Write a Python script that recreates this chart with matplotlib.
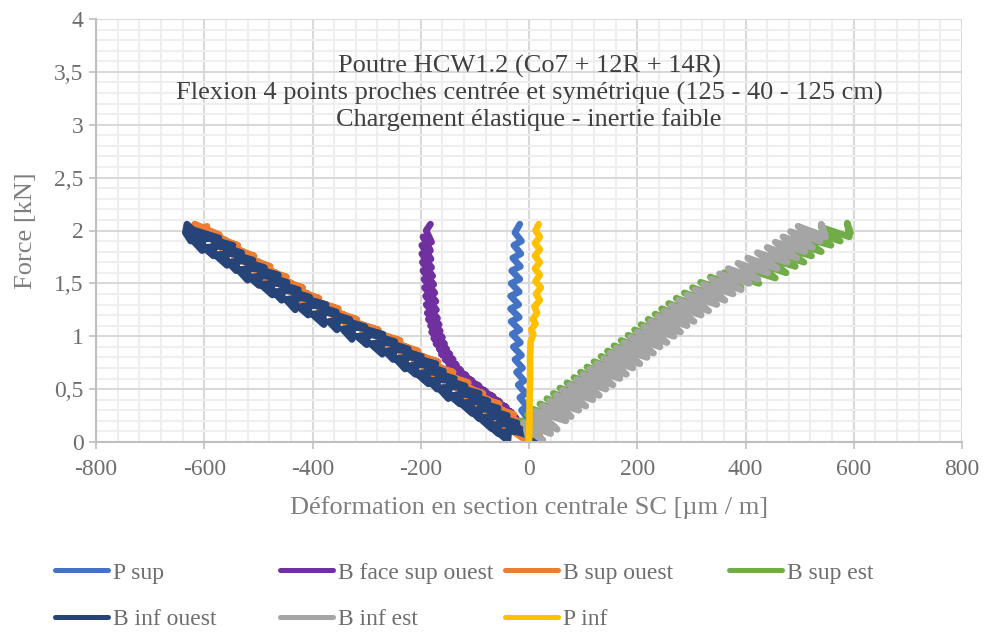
import matplotlib
matplotlib.use("Agg")
import matplotlib.pyplot as plt
from matplotlib.ticker import MultipleLocator, FuncFormatter

plt.rcParams['font.family'] = ['Liberation Serif', 'DejaVu Serif']

# points (deformation µm/m, force kN)
p_sup = [(-3, 0), (-8, 0.06), (0, 0.10), (-12, 0.18), (-2, 0.22), (-14, 0.30), (-4, 0.34),
         (-17, 0.42), (-6, 0.46), (-20, 0.54), (-9, 0.58), (-23, 0.66), (-12, 0.70),
         (-26, 0.78), (-14, 0.82), (-29, 0.90), (-16, 0.94), (-31, 1.02), (-17, 1.06),
         (-33, 1.14), (-18, 1.18), (-34, 1.26), (-19, 1.30), (-34, 1.38), (-18, 1.42),
         (-33, 1.50), (-17, 1.54), (-32, 1.62), (-16, 1.66), (-30, 1.74), (-15, 1.78),
         (-28, 1.86), (-14, 1.90), (-26, 1.98), (-17, 2.06)]

b_face_sup_ouest = [(-3, 0), (-16, 0.08), (4, 0.03), (-22, 0.13), (-2, 0.08), (-30, 0.18),
                    (-10, 0.13), (-36, 0.23), (-14, 0.18), (-44, 0.28), (-24, 0.23), (-54, 0.33),
                    (-32, 0.28), (-66, 0.38), (-42, 0.33), (-78, 0.43), (-54, 0.38), (-92, 0.48),
                    (-66, 0.43), (-104, 0.53), (-80, 0.48), (-118, 0.58), (-92, 0.53),
                    (-128, 0.63), (-105, 0.58), (-140, 0.68), (-116, 0.63), (-148, 0.73),
                    (-126, 0.68), (-155, 0.78), (-134, 0.73), (-162, 0.83), (-140, 0.78),
                    (-166, 0.88), (-146, 0.83), (-172, 0.93), (-152, 0.88), (-176, 0.98),
                    (-156, 0.93), (-180, 1.04), (-160, 0.99), (-182, 1.10), (-164, 1.05),
                    (-186, 1.16), (-166, 1.11), (-188, 1.22), (-169, 1.17), (-190, 1.30),
                    (-171, 1.25), (-191, 1.38), (-172, 1.33), (-193, 1.46), (-174, 1.41),
                    (-194, 1.54), (-176, 1.49), (-196, 1.62), (-178, 1.57), (-197, 1.70),
                    (-180, 1.65), (-198, 1.78), (-181, 1.73), (-198, 1.86), (-182, 1.81),
                    (-196, 1.94), (-180, 1.89), (-190, 2.00), (-182, 2.06)]

b_sup_ouest = [(0, 0), (-30, 0.10), (25, 0.02), (-48, 0.15), (20, 0.06), (-55, 0.20), (2, 0.10),
               (-72, 0.25), (-5, 0.16), (-82, 0.30), (-22, 0.20), (-98, 0.35), (-28, 0.26),
               (-105, 0.40), (-48, 0.30), (-125, 0.45), (-55, 0.36), (-132, 0.50), (-75, 0.40),
               (-155, 0.55), (-85, 0.46), (-162, 0.60), (-105, 0.50), (-185, 0.65), (-112, 0.56),
               (-190, 0.70), (-135, 0.60), (-212, 0.75), (-140, 0.66), (-218, 0.80), (-162, 0.70),
               (-238, 0.85), (-168, 0.76), (-250, 0.90), (-192, 0.80), (-275, 0.95), (-205, 0.86),
               (-282, 1.00), (-228, 0.90), (-308, 1.05), (-238, 0.96), (-322, 1.10), (-265, 1.00),
               (-348, 1.15), (-278, 1.06), (-362, 1.20), (-305, 1.10), (-388, 1.25), (-318, 1.16),
               (-396, 1.30), (-342, 1.20), (-425, 1.35), (-352, 1.26), (-432, 1.40), (-378, 1.30),
               (-458, 1.45), (-388, 1.36), (-465, 1.50), (-408, 1.40), (-488, 1.55), (-418, 1.46),
               (-495, 1.60), (-438, 1.50), (-518, 1.65), (-448, 1.56), (-525, 1.70), (-468, 1.60),
               (-545, 1.75), (-478, 1.66), (-552, 1.80), (-498, 1.70), (-575, 1.85), (-508, 1.76),
               (-582, 1.90), (-528, 1.80), (-602, 1.95), (-538, 1.86), (-612, 2.00), (-558, 1.90),
               (-618, 2.06), (-572, 1.96), (-615, 1.98), (-595, 2.04)]

b_sup_est = [(0, 0), (-8, 0.14), (20, 0.04), (-14, 0.20), (34, 0.10), (-3, 0.26), (48, 0.14),
             (7, 0.31), (62, 0.22), (20, 0.36), (74, 0.26), (33, 0.41), (86, 0.32), (45, 0.46),
             (100, 0.36), (57, 0.51), (112, 0.42), (70, 0.56), (125, 0.46), (83, 0.61),
             (136, 0.52), (95, 0.66), (150, 0.56), (107, 0.71), (162, 0.62), (120, 0.76),
             (175, 0.66), (133, 0.81), (186, 0.72), (145, 0.86), (200, 0.76), (157, 0.91),
             (212, 0.82), (170, 0.96), (225, 0.86), (183, 1.01), (236, 0.92), (195, 1.06),
             (250, 0.96), (207, 1.11), (262, 1.02), (220, 1.16), (275, 1.06), (233, 1.21),
             (286, 1.12), (245, 1.26), (300, 1.16), (258, 1.31), (312, 1.22), (272, 1.36),
             (327, 1.26), (287, 1.41), (342, 1.32), (302, 1.46), (357, 1.36), (317, 1.51),
             (372, 1.42), (335, 1.56), (392, 1.46), (360, 1.60), (425, 1.50), (400, 1.64),
             (455, 1.55), (422, 1.69), (475, 1.60), (440, 1.74), (492, 1.66), (455, 1.79),
             (508, 1.70), (468, 1.84), (522, 1.76), (485, 1.89), (540, 1.80), (502, 1.94),
             (558, 1.86), (522, 1.99), (575, 1.90), (540, 2.03), (592, 1.94), (588, 2.07),
             (594, 1.98)]

b_inf_ouest = [(0, 0), (13, 0.04), (-37, 0.12), (-39, 0.01), (-57, 0.09),
               (-5, 0.11), (-55, 0.19), (-57, 0.08), (-75, 0.16),
               (-22, 0.18), (-72, 0.26), (-70, 0.13), (-92, 0.23),
               (-40, 0.25), (-90, 0.33), (-92, 0.22), (-108, 0.30),
               (-57, 0.32), (-107, 0.40), (-105, 0.27), (-127, 0.37),
               (-76, 0.39), (-126, 0.47), (-128, 0.36), (-146, 0.44),
               (-92, 0.46), (-147, 0.54), (-149, 0.41), (-167, 0.51),
               (-118, 0.53), (-168, 0.61), (-170, 0.50), (-185, 0.58),
               (-138, 0.60), (-188, 0.68), (-186, 0.55), (-208, 0.65),
               (-158, 0.67), (-208, 0.75), (-210, 0.64), (-228, 0.72),
               (-172, 0.74), (-227, 0.82), (-229, 0.69), (-247, 0.79),
               (-199, 0.81), (-249, 0.89), (-251, 0.78), (-266, 0.86),
               (-223, 0.88), (-273, 0.96), (-271, 0.83), (-293, 0.93),
               (-248, 0.95), (-298, 1.03), (-300, 0.92), (-318, 1.00),
               (-270, 1.02), (-325, 1.10), (-327, 0.97), (-345, 1.07),
               (-303, 1.09), (-353, 1.17), (-355, 1.06), (-370, 1.14),
               (-331, 1.16), (-381, 1.24), (-379, 1.11), (-401, 1.21),
               (-356, 1.23), (-406, 1.31), (-408, 1.20), (-426, 1.28),
               (-375, 1.30), (-430, 1.38), (-432, 1.25), (-450, 1.35),
               (-405, 1.37), (-455, 1.45), (-457, 1.34), (-472, 1.42),
               (-426, 1.44), (-476, 1.52), (-474, 1.39), (-496, 1.49),
               (-447, 1.51), (-497, 1.59), (-499, 1.48), (-517, 1.56),
               (-463, 1.58), (-518, 1.66), (-520, 1.53), (-538, 1.63),
               (-489, 1.65), (-539, 1.73), (-541, 1.62), (-556, 1.70),
               (-510, 1.72), (-560, 1.80), (-558, 1.67), (-580, 1.77),
               (-531, 1.79), (-581, 1.87), (-583, 1.76), (-601, 1.84),
               (-547, 1.86), (-602, 1.94), (-604, 1.81), (-622, 1.91),
               (-573, 1.93), (-623, 2.01), (-625, 1.90), (-635, 1.98),
               (-632, 2.06), (-612, 1.96)]

b_inf_est = [(0, 0), (-5, 0.12), (25, 0.02), (-10, 0.18), (40, 0.08), (2, 0.24), (52, 0.12),
             (12, 0.29), (68, 0.20), (25, 0.34), (78, 0.24), (38, 0.39), (92, 0.30), (50, 0.44),
             (105, 0.34), (62, 0.49), (118, 0.40), (75, 0.54), (130, 0.44), (88, 0.59),
             (142, 0.50), (100, 0.64), (155, 0.54), (112, 0.69), (168, 0.60), (125, 0.74),
             (180, 0.64), (138, 0.79), (192, 0.70), (150, 0.84), (205, 0.74), (162, 0.89),
             (218, 0.80), (175, 0.94), (230, 0.84), (188, 0.99), (242, 0.90), (200, 1.04),
             (255, 0.94), (212, 1.09), (268, 1.00), (225, 1.14), (280, 1.04), (238, 1.19),
             (292, 1.10), (250, 1.24), (305, 1.14), (263, 1.29), (318, 1.20), (277, 1.34),
             (332, 1.24), (292, 1.39), (347, 1.30), (307, 1.44), (362, 1.34), (322, 1.49),
             (377, 1.40), (337, 1.54), (392, 1.44), (352, 1.59), (407, 1.50), (368, 1.64),
             (423, 1.54), (386, 1.69), (441, 1.60), (404, 1.74), (459, 1.64), (422, 1.79),
             (477, 1.70), (440, 1.84), (495, 1.74), (455, 1.89), (510, 1.80), (469, 1.94),
             (524, 1.84), (483, 1.99), (538, 1.90), (497, 2.04), (548, 1.94), (540, 2.06),
             (545, 1.98)]

p_inf = [(0, 0), (1, 0.2), (1, 0.4), (2, 0.6), (2, 0.8), (3, 0.95), (8, 1.02), (4, 1.06),
         (12, 1.12), (7, 1.16), (15, 1.22), (10, 1.28), (20, 1.34), (13, 1.40), (22, 1.46),
         (12, 1.52), (20, 1.58), (11, 1.64), (20, 1.70), (11, 1.76), (20, 1.82), (11, 1.88),
         (20, 1.94), (12, 2.00), (18, 2.06)]

series = [
    ("P sup", p_sup, "#4472C4"),
    ("B face sup ouest", b_face_sup_ouest, "#7030A0"),
    ("B sup ouest", b_sup_ouest, "#ED7D31"),
    ("B sup est", b_sup_est, "#70AD47"),
    ("B inf ouest", b_inf_ouest, "#264478"),
    ("B inf est", b_inf_est, "#A5A5A5"),
    ("P inf", p_inf, "#FFC000"),
]

titre = "Poutre HCW1.2 (Co7 + 12R + 14R)\nFlexion 4 points proches centrée et symétrique (125 - 40 - 125 cm)\nChargement élastique - inertie faible"

fig = plt.figure(figsize=(9.84, 6.32), dpi=100)
ax = fig.add_axes([96 / 984, 1 - 442 / 632, 866 / 984, 423 / 632])

lines = {}
for nom, pts, col in series:
    xs = [p[0] for p in pts]
    ys = [p[1] for p in pts]
    l, = ax.plot(xs, ys, color=col, lw=4.8, label=nom,
                 solid_joinstyle='round', solid_capstyle='round')
    lines[nom] = l

ax.set_xlim(-800, 800)
ax.set_ylim(0, 4)
ax.xaxis.set_major_locator(MultipleLocator(200))
ax.xaxis.set_minor_locator(MultipleLocator(40))
ax.yaxis.set_major_locator(MultipleLocator(0.5))
ax.yaxis.set_minor_locator(MultipleLocator(0.1))
ax.yaxis.set_major_formatter(FuncFormatter(lambda v, p: ('%g' % v).replace('.', ',')))
ax.xaxis.set_major_formatter(FuncFormatter(lambda v, p: '%d' % v))

ax.grid(which='major', color='#D9D9D9', lw=1.5)
ax.grid(which='minor', color='#EEEEEE', lw=1.5)
ax.set_axisbelow(True)

for s in ['top', 'right']:
    ax.spines[s].set_visible(False)
for s in ['left', 'bottom']:
    ax.spines[s].set_color('#BFBFBF')
    ax.spines[s].set_linewidth(1.5)

ax.tick_params(which='major', length=5, width=1.2, color='#BFBFBF',
               labelsize=17, labelcolor='#6E6E6E')
ax.tick_params(axis='x', which='major', pad=7)
ax.tick_params(axis='y', which='major', pad=4)
ax.tick_params(which='minor', length=0)

ax.set_xlabel("Déformation en section centrale SC [µm / m]", fontsize=19, color='#7F7F7F', labelpad=12)
ax.set_ylabel("Force [kN]", fontsize=19, color='#7F7F7F', labelpad=12)

ax.text(0.5, 0.915, titre, transform=ax.transAxes, ha='center', va='top',
        fontsize=19, color='#404040', linespacing=1.2)

# legend columns placed like the reference
colonnes = [(55, ["P sup", "B inf ouest"]),
            (280, ["B face sup ouest", "B inf est"]),
            (505, ["B sup ouest", "P inf"]),
            (729, ["B sup est"])]
for x0, noms in colonnes:
    leg = fig.legend([lines[n] for n in noms], noms, loc='upper left',
                     bbox_to_anchor=(x0 / 984, 1 - 562 / 632), frameon=False,
                     fontsize=17, labelcolor='#6E6E6E', handlelength=2.25,
                     handletextpad=0.2, borderpad=0, borderaxespad=0, labelspacing=1.05)
    for h in leg.legend_handles:
        h.set_linewidth(3.6)

fig.savefig("out.png", dpi=100)
